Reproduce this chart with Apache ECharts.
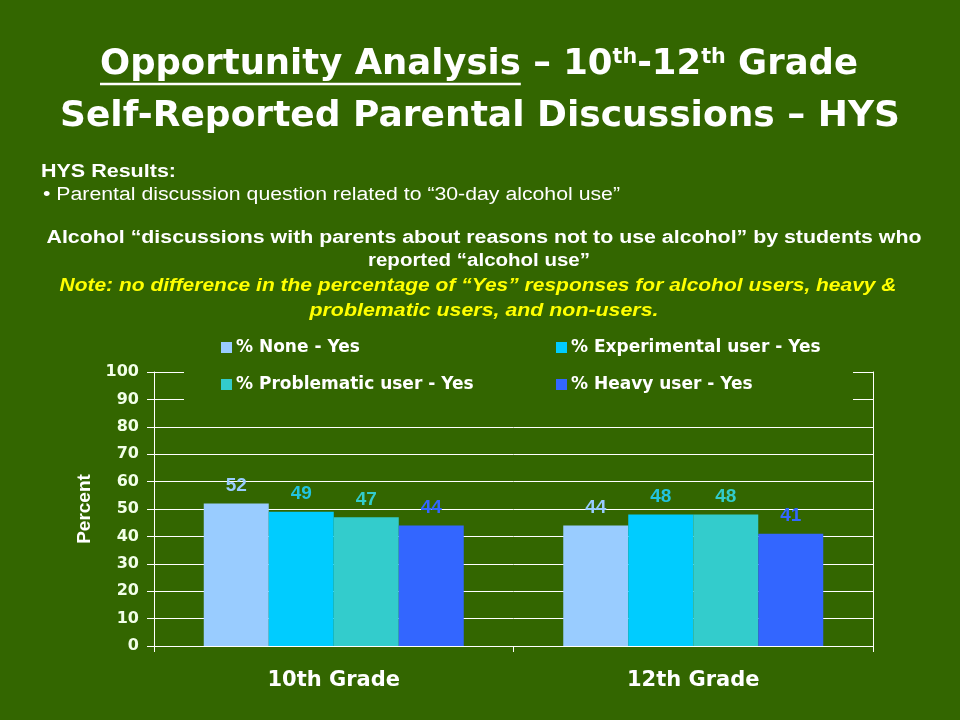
<!DOCTYPE html>
<html><head><meta charset="utf-8">
<script src="https://cdn.jsdelivr.net/npm/echarts@6.0.0/dist/echarts.min.js"></script>
<style>html,body{margin:0;padding:0;background:#336600}#c{width:960px;height:720px}</style>
</head><body><div id="c"></div>
<script>
const categories = ['10th Grade', '12th Grade'];
const seriesNames = ['% None - Yes', '% Experimental user - Yes', '% Problematic user - Yes', '% Heavy user - Yes'];
const noneYes = [52, 44];
const experimentalYes = [49, 48];
const problematicYes = [47, 48];
const heavyYes = [44, 41];
const yMin = 0, yMax = 100, yStep = 10;

const seriesValues = [noneYes, experimentalYes, problematicYes, heavyYes];
const colors = ['#99CCFF', '#00CCFF', '#33CCCC', '#3366FF'];
const labelColors = ['#99CCFF', '#22C4E0', '#33CCCC', '#3366FF'];
const BG = '#336600';
const SANS = '"Liberation Sans",Arial,sans-serif';
const WIDE = '"DejaVu Sans",Verdana,sans-serif';

const chart = echarts.init(document.getElementById('c'), null, {renderer: 'canvas'});

const mc = document.createElement('canvas').getContext('2d');
function tw(t, font) { mc.font = font; return mc.measureText(t).width; }

// title line 1
const tFont = 'bold 36px ' + WIDE, sFont = 'bold 21px ' + WIDE;
const segA = 'Opportunity Analysis', segB = ' – 10', segC = '-12', segD = ' Grade', sup = 'th';
const wA = tw(segA, tFont);
const total1 = wA + tw(segB, tFont) + 2 * tw(sup, sFont) + tw(segC, tFont) + tw(segD, tFont);
const sx1 = 758 / total1;
const l1Start = 479 - total1 * sx1 / 2;
const ulEnd = l1Start + wA * sx1;

function fitText(text, font, x, y, target, align, fill) {
  const w = tw(text, font);
  return {type: 'text', x: x, y: y, z: 10, scaleX: target / w, style: {text: text, font: font, fill: fill || '#FFFFFF', textAlign: align, textVerticalAlign: 'middle'}};
}

const legendPos = [[221, 339], [556, 339], [221, 376], [556, 376]];

const option = {
  backgroundColor: BG,
  animation: false,
  grid: {left: 154, right: 87, top: 372, bottom: 74, containLabel: false},
  legend: seriesNames.map((n, i) => ({
    data: [n], left: legendPos[i][0], top: legendPos[i][1], padding: 0,
    itemWidth: 11, itemHeight: 11, itemGap: 0, icon: 'rect', z: 6,
    textStyle: {color: '#FFFFFF', fontWeight: 'bold', fontSize: 17, fontFamily: WIDE, padding: [0, 0, 0, -1]}
  })),
  xAxis: {
    type: 'category', data: categories,
    axisLine: {show: true, lineStyle: {color: '#FFFFFF', width: 1}},
    axisTick: {show: true, length: 6, lineStyle: {color: '#FFFFFF'}},
    axisLabel: {color: '#FFFFFF', fontWeight: 'bold', fontSize: 21, fontFamily: WIDE, margin: 24},
    splitLine: {show: false}
  },
  yAxis: [{
    type: 'value', min: yMin, max: yMax, interval: yStep,
    name: 'Percent', nameLocation: 'middle', nameGap: 58, nameRotate: 90,
    nameTextStyle: {color: '#FFFFFF', fontWeight: 'bold', fontSize: 19, fontFamily: SANS},
    axisLine: {show: true, lineStyle: {color: '#FFFFFF', width: 1}},
    axisTick: {show: true, length: 7, lineStyle: {color: '#FFFFFF'}},
    axisLabel: {color: '#F2FFE8', fontWeight: 'bold', fontSize: 16, fontFamily: WIDE, margin: 15},
    splitLine: {show: true, lineStyle: {color: '#FFFFFF', width: 1}}
  }, {
    type: 'value', min: yMin, max: yMax, interval: yStep, position: 'right',
    axisLine: {show: true, lineStyle: {color: '#FFFFFF', width: 1}},
    axisTick: {show: false}, axisLabel: {show: false}, splitLine: {show: false}
  }],
  series: seriesNames.map((n, i) => ({
    name: n, type: 'bar', data: seriesValues[i], yAxisIndex: 0,
    barWidth: 65, barGap: '0%', z: 3,
    itemStyle: {color: colors[i]},
    label: {show: true, position: 'top', distance: 8, color: labelColors[i], fontWeight: 'bold', fontSize: 19, fontFamily: SANS}
  })),
  graphic: [
    {type: 'rect', shape: {x: 184, y: 334, width: 669, height: 72}, style: {fill: BG}, z: 1, silent: true},
    {type: 'text', x: 479, y: 65, z: 10, scaleX: sx1, style: {
      text: '{a|' + segA + '}{a|' + segB + '}{s|' + sup + '}{a|' + segC + '}{s|' + sup + '}{a|' + segD + '}',
      textAlign: 'center', textVerticalAlign: 'middle',
      rich: {
        a: {font: tFont, fill: '#FFFFFF', color: '#FFFFFF', lineHeight: 42, verticalAlign: 'middle'},
        s: {font: sFont, fill: '#FFFFFF', color: '#FFFFFF', lineHeight: 42, verticalAlign: 'top', padding: [3, 0, 0, 0]}
      }
    }},
    {type: 'line', z: 10, shape: {x1: l1Start, y1: 84, x2: ulEnd, y2: 84}, style: {stroke: '#FFFFFF', lineWidth: 2.5}},
    fitText('Self-Reported Parental Discussions – HYS', tFont, 480, 117, 840, 'center'),
    fitText('HYS Results:', 'bold 18px ' + SANS, 41, 172, 135, 'left'),
    fitText('• Parental discussion question related to “30-day alcohol use”', '18px ' + SANS, 43, 195, 577, 'left'),
    fitText('Alcohol “discussions with parents about reasons not to use alcohol” by students who', 'bold 18px ' + SANS, 484, 238, 875, 'center'),
    fitText('reported “alcohol use”', 'bold 18px ' + SANS, 479, 261, 222, 'center'),
    fitText('Note: no difference in the percentage of “Yes” responses for alcohol users, heavy &', 'italic bold 18px ' + SANS, 478, 286, 837, 'center', '#FFFF00'),
    fitText('problematic users, and non-users.', 'italic bold 18px ' + SANS, 484, 311, 349, 'center', '#FFFF00')
  ]
};
chart.setOption(option);
</script></body></html>
